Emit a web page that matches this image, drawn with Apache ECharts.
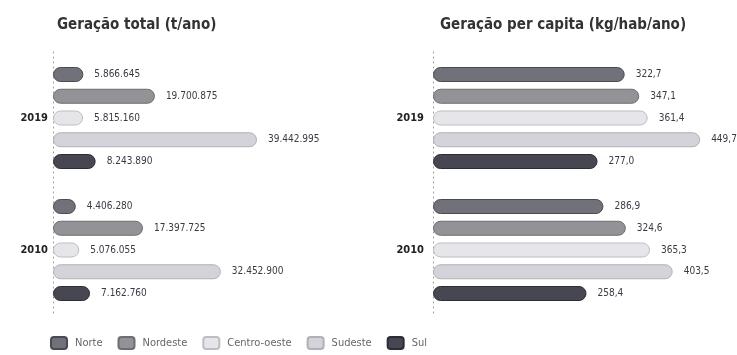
<!DOCTYPE html>
<html>
<head>
<meta charset="utf-8">
<script src="https://cdn.jsdelivr.net/npm/echarts@6/dist/echarts.min.js"></script>
<style>
  html, body { margin: 0; padding: 0; background: #fff; }
  #chart { width: 737px; height: 355px; }
</style>
</head>
<body>
<div id="chart"></div>
<script>
// anos (de cima para baixo)
const years = ['2019', '2010'];
const regions = ['Norte', 'Nordeste', 'Centro-oeste', 'Sudeste', 'Sul'];

// geração total (t/ano), por região: [2019, 2010]
const totalNorte = [5866645, 4406280];
const totalNordeste = [19700875, 17397725];
const totalCentroOeste = [5815160, 5076055];
const totalSudeste = [39442995, 32452900];
const totalSul = [8243890, 7162760];

// geração per capita (kg/hab/ano), por região: [2019, 2010]
const capNorte = [322.7, 286.9];
const capNordeste = [347.1, 324.6];
const capCentroOeste = [361.4, 365.3];
const capSudeste = [449.7, 403.5];
const capSul = [277.0, 258.4];

const totals = [totalNorte, totalNordeste, totalCentroOeste, totalSudeste, totalSul];
const perCapita = [capNorte, capNordeste, capCentroOeste, capSudeste, capSul];

const fills = ['#717179', '#929297', '#e6e6ea', '#d3d3d9', '#474752'];
const borders = ['#4a4a52', '#6d6d72', '#bdbdc3', '#b0b0b8', '#2c2c36'];

const font = '"DejaVu Sans Condensed", "Liberation Sans Narrow", "DejaVu Sans", sans-serif';

function fmtInt(v) {
    return String(Math.round(v)).replace(/\B(?=(\d{3})+(?!\d))/g, '.');
}
function fmtDec(v) {
    return v.toFixed(1).replace('.', ',');
}

let chart = echarts.init(document.getElementById('chart'));

function makeSeries(data, idx, fmt) {
    return data.map((vals, i) => ({
        name: regions[i],
        type: 'bar',
        xAxisIndex: idx,
        yAxisIndex: idx,
        data: vals,
        barWidth: 15,
        barGap: '45%',
        itemStyle: {
            color: fills[i],
            borderColor: borders[i],
            borderWidth: 1,
            borderRadius: 7
        },
        label: {
            show: true,
            position: 'right',
            distance: 11,
            fontFamily: font,
            fontSize: 10,
            color: '#3a3a44',
            formatter: (p) => fmt(p.value)
        }
    }));
}

let yAxisBase = {
    type: 'category',
    data: years,
    inverse: true,
    axisTick: { show: false },
    axisLine: { show: true, lineStyle: { color: '#999', type: [1, 4], width: 1 } },
    axisLabel: { fontFamily: font, fontSize: 11, fontWeight: 'bold', color: '#222' }
};

let option = {
    animation: false,
    title: [
        {
            text: 'Geração total (t/ano)',
            left: 52, top: 13,
            textStyle: { fontFamily: font, fontSize: 15, fontWeight: 'bold', color: '#333' }
        },
        {
            text: 'Geração per capita (kg/hab/ano)',
            left: 435, top: 13,
            textStyle: { fontFamily: font, fontSize: 15, fontWeight: 'bold', color: '#333' }
        }
    ],
    legend: {
        data: regions,
        left: 45,
        top: 331,
        icon: 'roundRect',
        itemWidth: 16,
        itemHeight: 12,
        itemGap: 15,
        selectedMode: false,
        textStyle: { fontFamily: font, fontSize: 11, color: '#666', padding: [0, 0, 0, 3] }
    },
    grid: [
        { left: 53, top: 52, width: 300, height: 264 },
        { left: 433, top: 52, width: 300, height: 264 }
    ],
    xAxis: [
        { type: 'value', gridIndex: 0, min: 0, max: 58000000, show: false },
        { type: 'value', gridIndex: 1, min: 0, max: 505, show: false }
    ],
    yAxis: [
        Object.assign({}, yAxisBase, { gridIndex: 0, axisLabel: Object.assign({}, yAxisBase.axisLabel, { margin: 5 }) }),
        Object.assign({}, yAxisBase, { gridIndex: 1, axisLabel: Object.assign({}, yAxisBase.axisLabel, { margin: 9 }) })
    ],
    series: [
        ...makeSeries(totals, 0, fmtInt),
        ...makeSeries(perCapita, 1, fmtDec)
    ]
};

option && chart.setOption(option);
</script>
</body>
</html>
